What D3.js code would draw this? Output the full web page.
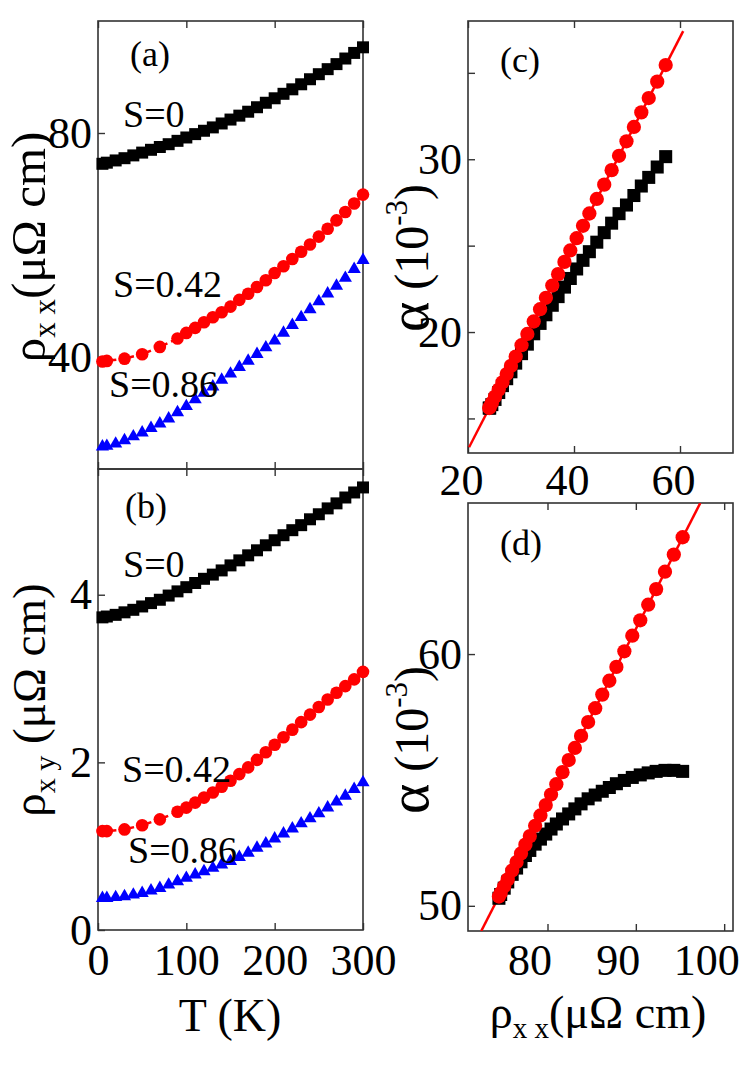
<!DOCTYPE html>
<html>
<head>
<meta charset="utf-8">
<script src="https://cdn.jsdelivr.net/npm/d3@7/dist/d3.min.js"></script>
<style>
    body { margin: 0; background: #fff; }
    svg { display: block; }
    svg text { font-family: "Liberation Serif", "DejaVu Serif", "Times New Roman", serif; }
</style>
</head>
<body>
<svg id="chart" width="756" height="1070" font-family="Liberation Serif, DejaVu Serif, serif"></svg>
<script>
// temperature grids (K)
var temps = [5, 10, 20, 30, 40, 50, 60, 70, 80, 90, 100, 110, 120, 130, 140, 150,
    160, 170, 180, 190, 200, 210, 220, 230, 240, 250, 260, 270, 280, 290, 300];
var tempsS042 = [5, 10, 30, 50, 70, 90, 100, 110, 120, 130, 140, 150, 160, 170,
    180, 190, 200, 210, 220, 230, 240, 250, 260, 270, 280, 290, 300];

var seriesNames = ['S=0', 'S=0.42', 'S=0.86'];

// (a) rho_xx (uOhm cm)
var rhoXX_S0 = [74.5, 74.7, 75.1, 75.5, 76.0, 76.5, 77.0, 77.5, 78.0, 78.6, 79.2, 79.8,
    80.4, 81.0, 81.7, 82.4, 83.1, 83.8, 84.6, 85.4, 86.2, 87.0, 87.8, 88.7, 89.6, 90.5,
    91.4, 92.3, 93.3, 94.3, 95.3];
var rhoXX_S042 = [39.2, 39.3, 39.7, 40.5, 41.8, 43.3, 44.3, 45.2, 46.2, 47.1, 48.0, 49.0,
    50.2, 51.3, 52.5, 53.7, 55.0, 56.2, 57.5, 58.8, 60.1, 61.5, 62.9, 64.4, 65.9, 67.4, 69.0];
var rhoXX_S086 = [24.0, 24.1, 24.5, 25.1, 25.8, 26.5, 27.3, 28.1, 29.0, 30.1, 31.2, 32.4,
    33.6, 34.7, 35.9, 37.0, 38.2, 39.3, 40.5, 41.7, 42.9, 44.3, 45.7, 47.1, 48.5, 49.9,
    51.3, 52.7, 54.1, 55.7, 57.3];

// (b) rho_xy (uOhm cm)
var rhoXY_S0 = [3.73, 3.74, 3.76, 3.79, 3.82, 3.86, 3.90, 3.94, 3.99, 4.04, 4.09, 4.14,
    4.19, 4.24, 4.29, 4.35, 4.41, 4.47, 4.53, 4.59, 4.65, 4.71, 4.77, 4.83, 4.90, 4.96,
    5.03, 5.09, 5.16, 5.22, 5.28];
var rhoXY_S042 = [1.18, 1.18, 1.20, 1.25, 1.32, 1.41, 1.46, 1.52, 1.58, 1.64, 1.71, 1.78,
    1.86, 1.94, 2.03, 2.12, 2.21, 2.30, 2.39, 2.48, 2.57, 2.66, 2.75, 2.83, 2.91, 2.99, 3.08];
var rhoXY_S086 = [0.38, 0.38, 0.39, 0.40, 0.42, 0.44, 0.47, 0.50, 0.54, 0.58, 0.62, 0.66,
    0.70, 0.74, 0.78, 0.82, 0.87, 0.92, 0.98, 1.03, 1.09, 1.15, 1.21, 1.27, 1.33, 1.39,
    1.46, 1.53, 1.60, 1.68, 1.76];

// (c) alpha (1e-3) against rho_xx of S=0.86
var alphaC_exp = [15.6, 15.6, 15.8, 16.1, 16.5, 16.9, 17.3, 17.7, 18.2, 18.75, 19.3, 19.9,
    20.5, 21.0, 21.55, 22.05, 22.6, 23.1, 23.65, 24.15, 24.65, 25.2, 25.75, 26.3, 26.85,
    27.35, 27.9, 28.45, 28.95, 29.55, 30.15];
var alphaC_fit = [15.6, 15.66, 15.9, 16.26, 16.67, 17.09, 17.57, 18.04, 18.58, 19.24, 19.89,
    20.61, 21.32, 21.98, 22.69, 23.35, 24.06, 24.72, 25.43, 26.15, 26.86, 27.70, 28.53,
    29.37, 30.20, 31.04, 31.87, 32.71, 33.54, 34.49, 35.45];
var lineC_x = [20.2, 60.6];
var lineC_y = [13.33, 37.41];

// (d) alpha (1e-3) against rho_xx of S=0
var alphaD_exp = [50.3, 50.45, 50.7, 50.95, 51.25, 51.5, 51.75, 52.0, 52.2, 52.45, 52.65,
    52.85, 53.05, 53.25, 53.45, 53.65, 53.85, 54.05, 54.25, 54.4, 54.55, 54.7, 54.85,
    54.98, 55.1, 55.2, 55.28, 55.34, 55.38, 55.38, 55.34];
var alphaD_fit = [50.37, 50.51, 50.78, 51.05, 51.40, 51.74, 52.08, 52.43, 52.77, 53.18,
    53.59, 54.00, 54.42, 54.83, 55.31, 55.79, 56.27, 56.75, 57.30, 57.85, 58.39, 58.94,
    59.49, 60.11, 60.73, 61.34, 61.96, 62.58, 63.27, 63.95, 64.64];
var lineD_x = [72.5, 97.3];
var lineD_y = [49.0, 66.0];

// ticks
var ticksT = [0, 100, 200, 300];
var ticksA_y = [40, 80];
var ticksB_y = [0, 2, 4];
var ticksC_x = [20, 40, 60];
var ticksC_y = [15, 20, 25, 30, 35];
var ticksD_x = [80, 90, 100];
var ticksD_y = [50, 60];

(function () {
    'use strict';

    var svg = d3.select('#chart');
    var FONT = 'Liberation Serif, DejaVu Serif, serif';
    var RED = '#ff0000';
    var BLUE = '#0000ff';
    var BLACK = '#000000';

    var panelA = makePanel({ id: 'a', left: 98, right: 363, top: 21, bottom: 469,
        xDomain: [0, 300], yDomain: [20, 100], xTicks: ticksT, yTicks: ticksA_y, xLabels: false });
    var panelB = makePanel({ id: 'b', left: 98, right: 363, top: 469, bottom: 930,
        xDomain: [0, 300], yDomain: [0, 5.5], xTicks: ticksT, yTicks: ticksB_y, xLabels: true,
        xPad: 14, xShift: 0 });
    var panelC = makePanel({ id: 'c', left: 468, right: 733, top: 21, bottom: 453,
        xDomain: [20, 70], yDomain: [13, 38], xTicks: ticksC_x, yTicks: ticksC_y, xLabels: true,
        xPad: 11, xShift: -7, yFormat: function (d) { return d % 10 === 0 ? d : ''; } });
    var panelD = makePanel({ id: 'd', left: 468, right: 733, top: 503, bottom: 931,
        xDomain: [71, 101], yDomain: [49, 66], xTicks: ticksD_x, yTicks: ticksD_y, xLabels: true,
        xPad: 13, xShift: -18 });

    // (a)
    marks(panelA, temps, rhoXX_S0, d3.symbolSquare, 144, BLACK);
    dashed(panelA, tempsS042, rhoXX_S042);
    marks(panelA, tempsS042, rhoXX_S042, d3.symbolCircle, 125, RED);
    marks(panelA, temps, rhoXX_S086, d3.symbolTriangle, 75, BLUE);

    // (b)
    marks(panelB, temps, rhoXY_S0, d3.symbolSquare, 144, BLACK);
    dashed(panelB, tempsS042, rhoXY_S042);
    marks(panelB, tempsS042, rhoXY_S042, d3.symbolCircle, 125, RED);
    marks(panelB, temps, rhoXY_S086, d3.symbolTriangle, 75, BLUE);

    // (c)
    fitLine(panelC, lineC_x, lineC_y);
    marks(panelC, rhoXX_S086, alphaC_exp, d3.symbolSquare, 170, BLACK);
    marks(panelC, rhoXX_S086, alphaC_fit, d3.symbolCircle, 160, RED);

    // (d)
    fitLine(panelD, lineD_x, lineD_y);
    marks(panelD, rhoXX_S0, alphaD_exp, d3.symbolSquare, 170, BLACK);
    marks(panelD, rhoXX_S0, alphaD_fit, d3.symbolCircle, 160, RED);

    // panel letters and series labels
    label('(a)', 130, 66, 36);
    label(seriesNames[0], 123, 127, 38);
    label(seriesNames[1], 113, 297, 38);
    label(seriesNames[2], 109, 397, 38);

    label('(b)', 125, 518, 36);
    label(seriesNames[0], 123, 577, 38);
    label(seriesNames[1], 122, 782, 38);
    label(seriesNames[2], 128, 863, 38);

    label('(c)', 500, 72, 36);
    label('(d)', 500, 555, 36);

    // axis titles
    rhoTitle(45, 247, 'x x', '(μΩ cm)', true, 49);
    rhoTitle(45, 700, 'x y', ' (μΩ cm)', true, 47);
    alphaTitle(428, 258);
    alphaTitle(428, 740);
    rhoTitle(598, 1028, 'x x', '(μΩ cm)', false, 46);

    svg.append('text')
        .attr('x', 230)
        .attr('y', 1031)
        .attr('text-anchor', 'middle')
        .attr('font-family', FONT)
        .attr('font-size', 46)
        .text('T (K)');

    function makePanel(cfg) {
        var x = d3.scaleLinear().domain(cfg.xDomain).range([cfg.left, cfg.right]);
        var y = d3.scaleLinear().domain(cfg.yDomain).range([cfg.bottom, cfg.top]);
        var g = svg.append('g').attr('class', 'panel-' + cfg.id);

        var clipId = 'clip-' + cfg.id;
        svg.append('clipPath')
            .attr('id', clipId)
            .append('rect')
            .attr('x', cfg.left)
            .attr('y', cfg.top)
            .attr('width', cfg.right - cfg.left)
            .attr('height', cfg.bottom - cfg.top);

        g.append('g')
            .attr('transform', 'translate(0,' + cfg.bottom + ')')
            .call(d3.axisBottom(x)
                .tickValues(cfg.xTicks)
                .tickSizeInner(-7)
                .tickSizeOuter(0)
                .tickPadding(cfg.xPad || 0)
                .tickFormat(cfg.xLabels ? d3.format('d') : ''))
            .call(styleAxis)
            .selectAll('.tick text')
            .attr('dx', cfg.xShift || 0);

        g.append('g')
            .attr('transform', 'translate(0,' + cfg.top + ')')
            .call(d3.axisTop(x)
                .tickValues(cfg.xTicks)
                .tickSizeInner(-7)
                .tickSizeOuter(0)
                .tickFormat(''))
            .call(styleAxis);

        g.append('g')
            .attr('transform', 'translate(' + cfg.left + ',0)')
            .call(d3.axisLeft(y)
                .tickValues(cfg.yTicks)
                .tickSizeInner(-7)
                .tickSizeOuter(0)
                .tickPadding(6)
                .tickFormat(cfg.yFormat || d3.format('d')))
            .call(styleAxis);

        g.append('rect')
            .attr('x', cfg.left)
            .attr('y', cfg.top)
            .attr('width', cfg.right - cfg.left)
            .attr('height', cfg.bottom - cfg.top)
            .attr('fill', 'none')
            .attr('stroke', '#333')
            .attr('stroke-width', 1.6);

        return { g: g, x: x, y: y, clip: 'url(#' + clipId + ')' };
    }

    function styleAxis(sel) {
        sel.attr('font-family', FONT)
            .attr('font-size', 44);
        sel.select('.domain').remove();
        sel.selectAll('.tick line')
            .attr('stroke', '#333')
            .attr('stroke-width', 1.4);
        sel.selectAll('.tick text').attr('fill', '#000');
    }

    function marks(p, xs, ys, type, size, color) {
        var symbol = d3.symbol().type(type).size(size);
        p.g.append('g')
            .selectAll('path')
            .data(d3.zip(xs, ys))
            .enter().append('path')
            .attr('transform', function (d) {
                return 'translate(' + p.x(d[0]) + ',' + p.y(d[1]) + ')';
            })
            .attr('d', symbol)
            .attr('fill', color);
    }

    function dashed(p, xs, ys) {
        var line = d3.line()
            .x(function (d) { return p.x(d[0]); })
            .y(function (d) { return p.y(d[1]); });
        p.g.append('path')
            .datum(d3.zip(xs, ys))
            .attr('d', line)
            .attr('fill', 'none')
            .attr('stroke', RED)
            .attr('stroke-width', 2.5)
            .attr('stroke-dasharray', '5,4');
    }

    function fitLine(p, xs, ys) {
        var line = d3.line()
            .x(function (d) { return p.x(d[0]); })
            .y(function (d) { return p.y(d[1]); });
        p.g.append('path')
            .datum(d3.zip(xs, ys))
            .attr('clip-path', p.clip)
            .attr('d', line)
            .attr('fill', 'none')
            .attr('stroke', RED)
            .attr('stroke-width', 2.5);
    }

    function label(txt, x, y, size) {
        svg.append('text')
            .attr('x', x)
            .attr('y', y)
            .attr('font-family', FONT)
            .attr('font-size', size)
            .text(txt);
    }

    function rhoTitle(x, y, sub, rest, rotated, size) {
        var t = svg.append('text')
            .attr('transform', 'translate(' + x + ',' + y + ')' + (rotated ? ' rotate(-90)' : ''))
            .attr('text-anchor', 'middle')
            .attr('font-family', FONT)
            .attr('font-size', size);
        t.append('tspan').text('ρ');
        t.append('tspan').attr('dy', 10).attr('font-size', Math.round(size * 0.64)).text(sub);
        t.append('tspan').attr('dy', -10).text(rest);
    }

    function alphaTitle(x, y) {
        var t = svg.append('text')
            .attr('transform', 'translate(' + x + ',' + y + ') rotate(-90)')
            .attr('text-anchor', 'middle')
            .attr('font-family', FONT)
            .attr('font-size', 48);
        t.append('tspan').attr('font-size', 58).text('α');
        t.append('tspan').text(' (10');
        t.append('tspan').attr('dy', -21).attr('font-size', 31).text('-3');
        t.append('tspan').attr('dy', 21).text(')');
    }
})();
</script>
</body>
</html>
